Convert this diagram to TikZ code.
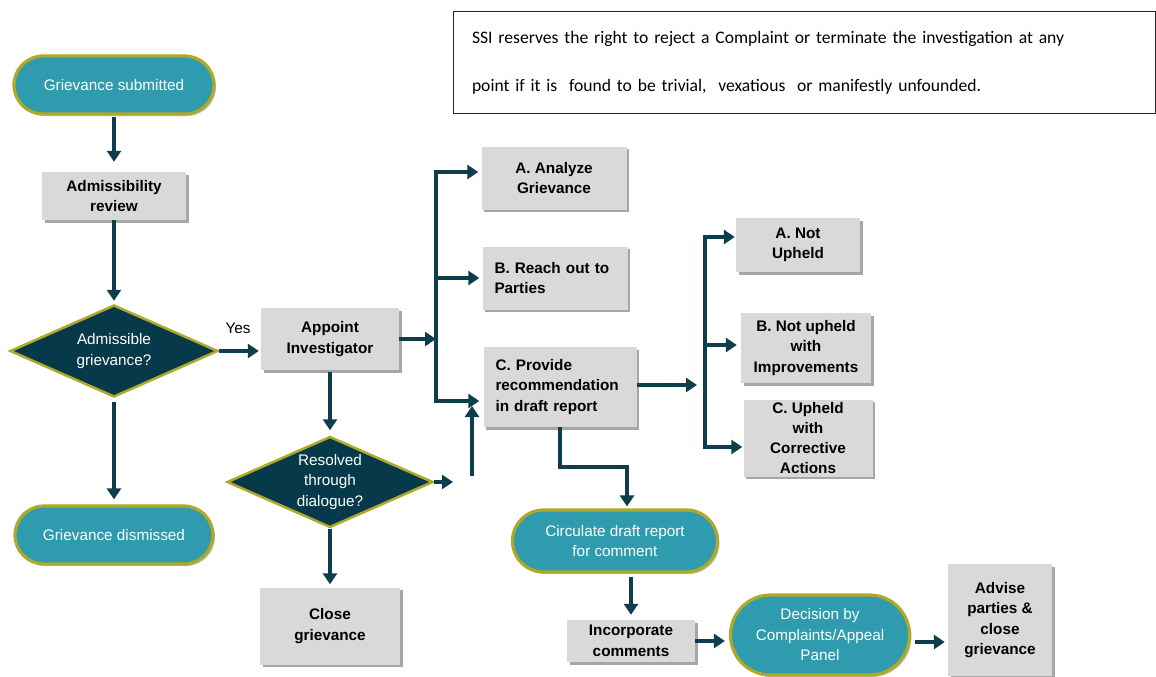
\documentclass[tikz,border=0pt]{standalone}
\usepackage{fontspec}
\setmainfont{Liberation Sans}
\newfontfamily\calfont{Carlito}
\usetikzlibrary{shapes.geometric,arrows.meta,shadows}
\definecolor{teal1}{HTML}{2E9BAE}
\definecolor{olive1}{HTML}{B0A828}
\definecolor{navy1}{HTML}{063A4A}
\definecolor{arrowc}{HTML}{0E3D4E}
\definecolor{boxgray}{HTML}{D9D9D9}
\begin{document}
\begin{tikzpicture}[x=1pt,y=-1pt,
  every node/.style={font=\fontsize{15.3}{20.5}\selectfont},
  gbox/.style={rectangle, fill=boxgray, inner sep=0pt, align=center,
    font=\fontsize{15.3}{20.5}\selectfont\bfseries,
    drop shadow={shadow xshift=2.5pt, shadow yshift=-2.5pt, fill=black, opacity=0.35}},
  term/.style={rectangle, fill=teal1, draw=olive1, line width=3.2pt, text=white, align=center, inner sep=0pt,
    drop shadow={shadow xshift=2pt, shadow yshift=-2pt, fill=black, opacity=0.25}},
  decis/.style={diamond, fill=navy1, draw=olive1, line width=2.5pt, inner sep=0pt},
  dtext/.style={text=white, align=center},
  conn/.style={draw=arrowc, line width=3.2pt},
  arr/.style={conn, -{Triangle[length=11pt,width=14pt]}},
]
\useasboundingbox (0,0) rectangle (1156,677);

% note box
\node[draw=black!85, line width=1pt, minimum width=702pt, minimum height=101pt, inner sep=0pt,
  text width=664pt, align=left, font=\calfont\fontsize{17.6}{48}\selectfont] (note) at (804,62.5)
  {SSI reserves the right to reject a Complaint or terminate the investigation at any\\
   point if it is\ \ found to be trivial,\ \ vexatious\ \ or manifestly unfounded.};

% left column
\node[term, rounded corners=29pt, minimum width=200pt, minimum height=58pt] (sub) at (114,85) {Grievance submitted};
\node[gbox, minimum width=144pt, minimum height=48pt] (adm) at (114,196) {Admissibility\\review};
\node[decis, minimum width=208pt, minimum height=92pt,
  label={[dtext]center:Admissible\\grievance?}] (q1) at (114,351) {};
\node[term, rounded corners=29pt, minimum width=198pt, minimum height=58pt] (dis) at (114,535) {Grievance dismissed};

% middle
\node (yes) at (238,328) {Yes};
\node[gbox, minimum width=138pt, minimum height=62pt] (app) at (330,339) {Appoint\\Investigator};
\node[decis, minimum width=206pt, minimum height=91pt,
  label={[dtext]center:Resolved\\through\\dialogue?}] (q2) at (330,482) {};
\node[gbox, minimum width=140pt, minimum height=77pt] (close) at (330,626) {Close\\grievance};

\node[gbox, minimum width=145pt, minimum height=63pt] (A) at (554,178) {A. Analyze\\Grievance};
\node[gbox, minimum width=145pt, minimum height=63pt, align=left, text width=121pt] (B) at (555,278) {B. Reach out to\\Parties};
\node[gbox, minimum width=153pt, minimum height=80pt, align=left, text width=129pt] (C) at (560,387) {C. Provide\\recommendation\\in draft report};

% right outcomes
\node[gbox, minimum width=124pt, minimum height=54pt] (NA) at (798,245) {A. Not\\Upheld};
\node[gbox, minimum width=130pt, minimum height=70pt] (NB) at (806,348) {B. Not upheld\\with\\Improvements};
\node[gbox, minimum width=129pt, minimum height=77pt, font=\fontsize{15.3}{20}\selectfont\bfseries] (NC) at (808,438) {C. Upheld\\with\\Corrective\\Actions};

% bottom
\node[term, rounded corners=31pt, minimum width=205pt, minimum height=62pt] (circ) at (615,541) {Circulate draft report\\for comment};
\node[gbox, minimum width=128pt, minimum height=42pt] (inc) at (631,641) {Incorporate\\comments};
\node[term, rounded corners=40pt, minimum width=179pt, minimum height=80pt] (panel) at (820,635) {Decision by\\Complaints/Appeal\\Panel};
\node[gbox, minimum width=104pt, minimum height=112pt] (adv) at (1000,620) {Advise\\parties \&\\close\\grievance};

% coordinates
\coordinate (q2out) at (453,482);
\coordinate (upS) at (472,476);
\coordinate (upE) at (472,406);
\coordinate (bus1) at (436,339);
\coordinate (busT) at (436,172);
\coordinate (busB) at (436,401);
\coordinate (rbIn) at (697,385);
\coordinate (rbT) at (705,237);
\coordinate (rbM) at (705,345);
\coordinate (rbB) at (705,447);
\coordinate (j1) at (627,467);

% connectors
\draw[arr, shorten <=1pt, shorten >=10pt] (sub) -- (adm);
\draw[arr, shorten >=3pt] (adm) -- (q1);
\draw[arr, shorten >=2pt] (q1.east) -- (q1.east -| app.west);
\draw[arr, shorten <=4pt, shorten >=5pt] (q1) -- (dis);
\draw[arr, shorten <=2pt, shorten >=5pt] (app.south) -- (app.south |- q2.north);
\draw[arr] (q2.east) -- (q2out);
\draw[arr] (upS) -- (upE);
\draw[arr, shorten >=3pt] (q2) -- (close);

\draw[arr] (app.east) -- (bus1);
\draw[arr, shorten >=3pt] (bus1) -- (busT) -- (A.west |- busT);
\draw[arr, shorten >=4pt] (bus1) -- (busB) -- (C.west |- busB);
\draw[arr, shorten >=3pt] (B.west -| bus1) -- (B.west);

\draw[arr] (C.east |- rbIn) -- (rbIn);
\draw[arr, shorten >=1pt] (rbM) -- (rbT) -- (NA.west |- rbT);
\draw[arr, shorten >=1pt] (rbM) -- (rbB) -- (NC.west |- rbB);
\draw[arr, shorten >=4pt] (rbM) -- (NB.west |- rbM);

\draw[arr, shorten >=2pt] (C.south) |- (j1) -- (j1 |- circ.north);
\draw[arr, shorten <=3pt, shorten >=5pt] (inc.north |- circ.south) -- (inc.north);
\draw[arr, shorten >=4pt] (inc.east) -- (inc.east -| panel.west);
\draw[arr, shorten <=4pt, shorten >=3pt] ([yshift=-7pt]panel.east) -- ([yshift=-7pt]panel.east -| adv.west);
\end{tikzpicture}
\end{document}
